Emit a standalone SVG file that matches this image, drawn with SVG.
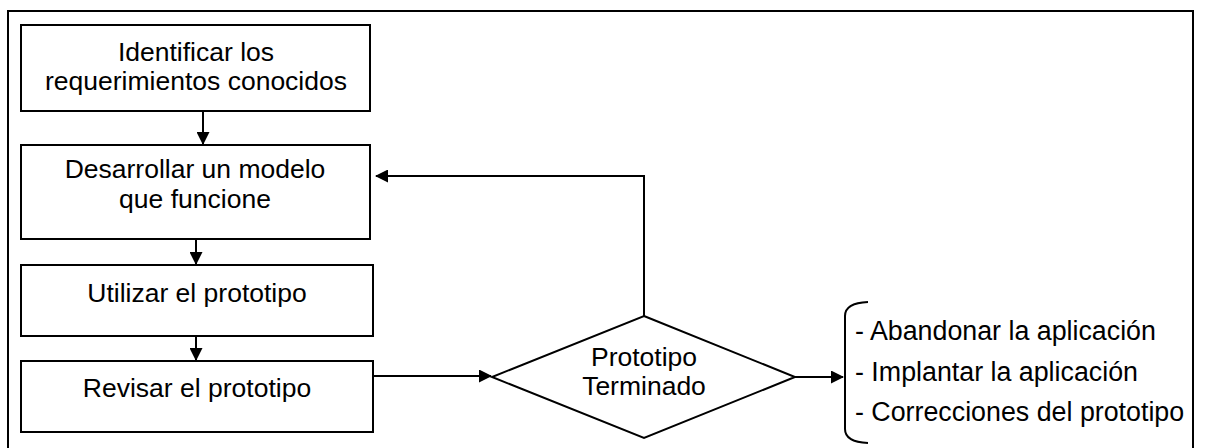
<svg xmlns="http://www.w3.org/2000/svg" width="1205" height="448" viewBox="0 0 1205 448">
  <style>
    .frame { fill: none; stroke: #000; stroke-width: 2; }
    .box { fill: #fff; stroke: #000; stroke-width: 2; }
    .lbl { font-family: "Liberation Sans", Arial, sans-serif; font-size: 26.5px; fill: #000; text-anchor: middle; }
    .item { font-family: "Liberation Sans", Arial, sans-serif; font-size: 26.8px; fill: #000; }
    .conn { fill: none; stroke: #000; stroke-width: 2; }
  </style>
  <defs>
    <marker id="arrow" markerWidth="13" markerHeight="13" refX="12" refY="6.5" orient="auto" markerUnits="userSpaceOnUse">
      <path d="M0,0 L13,6.5 L0,13 Z" fill="#000"/>
    </marker>
  </defs>

  <rect fill="#fff" width="1205" height="448"/>
  <!-- outer border -->
  <rect class="frame" x="8" y="11" width="1185" height="445"/>

  <g id="n-identificar">
    <rect class="box" x="21" y="25" width="349" height="86"/>
    <text class="lbl" x="196" y="61">Identificar los</text>
    <text class="lbl" x="196" y="90">requerimientos conocidos</text>
  </g>

  <g id="n-desarrollar">
    <rect class="box" x="21" y="145" width="349" height="94"/>
    <text class="lbl" x="195" y="178">Desarrollar un modelo</text>
    <text class="lbl" x="195" y="208">que funcione</text>
  </g>

  <g id="n-utilizar">
    <rect class="box" x="21" y="265" width="352" height="71"/>
    <text class="lbl" x="197" y="302">Utilizar el prototipo</text>
  </g>

  <g id="n-revisar">
    <rect class="box" x="21" y="361" width="352" height="71"/>
    <text class="lbl" x="197" y="397">Revisar el prototipo</text>
  </g>

  <g id="n-decision">
    <polygon class="box" points="644,316 795,377 644,438 492,377"/>
    <text class="lbl" x="644" y="366">Prototipo</text>
    <text class="lbl" x="644" y="395">Terminado</text>
  </g>

  <g id="n-resultados">
    <path class="conn" d="M868,302 Q845,303 845,316 L845,429 Q845,442 868,443"/>
    <text class="item" x="855" y="340">- Abandonar la aplicación</text>
    <text class="item" x="855" y="381">- Implantar la aplicación</text>
    <text class="item" x="855" y="421">- Correcciones del prototipo</text>
  </g>

  <g id="connectors">
    <line class="conn" x1="203" y1="111" x2="203" y2="144" marker-end="url(#arrow)"/>
    <line class="conn" x1="196" y1="239" x2="196" y2="264" marker-end="url(#arrow)"/>
    <line class="conn" x1="196" y1="336" x2="196" y2="360" marker-end="url(#arrow)"/>
    <line class="conn" x1="373" y1="376" x2="491" y2="376" marker-end="url(#arrow)"/>
    <polyline class="conn" points="644,316 644,176 376,176" marker-end="url(#arrow)"/>
    <line class="conn" x1="795" y1="377" x2="843" y2="377" marker-end="url(#arrow)"/>
  </g>
</svg>
